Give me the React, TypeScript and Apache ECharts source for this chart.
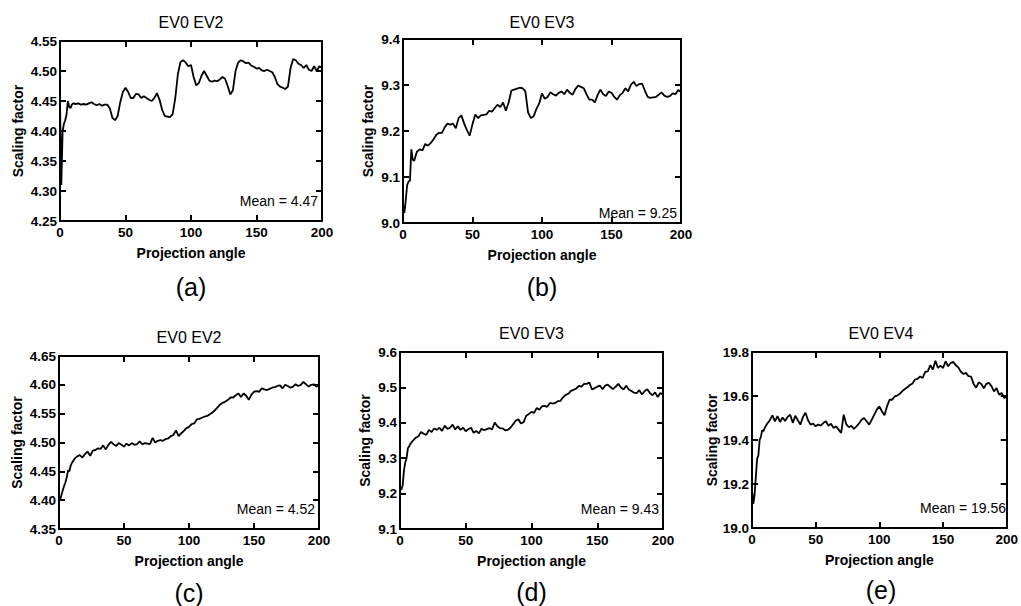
import React, { useEffect, useRef } from "react";
import * as echarts from "echarts";

// Projection angles (dense at the start, then every 2 degrees)
const ANGLES: number[] = [0, 1, 2, 3, 4, 5, 6, 7, 8, 9, 10].concat(
  Array.from({ length: 95 }, (_, i) => 12 + 2 * i)
);

const X_TICK_STEP = 50;

const TITLES = ["EV0 EV2", "EV0 EV3", "EV0 EV2", "EV0 EV3", "EV0 EV4"];
const SUB_LABELS = ["(a)", "(b)", "(c)", "(d)", "(e)"];
const MEANS = ["Mean = 4.47", "Mean = 9.25", "Mean = 4.52", "Mean = 9.43", "Mean = 19.56"];

const Y_MIN = [4.25, 9.0, 4.35, 9.1, 19.0];
const Y_MAX = [4.55, 9.4, 4.65, 9.6, 19.8];
const Y_STEP = [0.05, 0.1, 0.05, 0.1, 0.2];
const Y_DECIMALS = [2, 1, 2, 1, 1];

const VALUES_A = [
  4.45, 4.31, 4.4, 4.412, 4.418, 4.428, 4.45, 4.44, 4.438, 4.444, 4.446,
  4.445, 4.446, 4.444, 4.445, 4.444, 4.446, 4.448, 4.445, 4.443, 4.445, 4.442, 4.444, 4.444, 4.438, 4.422,
  4.418, 4.425, 4.448, 4.465, 4.472, 4.465, 4.455, 4.455, 4.462, 4.461, 4.455, 4.458, 4.455, 4.452, 4.45,
  4.455, 4.463, 4.452, 4.435, 4.425, 4.424, 4.423, 4.428, 4.455, 4.495, 4.515, 4.518, 4.514, 4.508, 4.51,
  4.49, 4.476, 4.48, 4.492, 4.5, 4.492, 4.484, 4.482, 4.484, 4.483, 4.486, 4.49, 4.487, 4.475, 4.461,
  4.468, 4.5, 4.514, 4.518, 4.516, 4.513, 4.514, 4.509, 4.507, 4.504, 4.505, 4.501, 4.5, 4.502, 4.5,
  4.498, 4.49, 4.478, 4.474, 4.472, 4.47, 4.474, 4.505, 4.52, 4.518, 4.512, 4.51, 4.505, 4.51, 4.502,
  4.5, 4.508, 4.5, 4.508, 4.505,
];

const VALUES_B = [
  9.04, 9.022, 9.05, 9.083, 9.09, 9.092, 9.16, 9.138, 9.135, 9.145, 9.155,
  9.16, 9.158, 9.172, 9.168, 9.174, 9.182, 9.192, 9.196, 9.196, 9.208, 9.216, 9.214, 9.216, 9.206, 9.228,
  9.234, 9.216, 9.202, 9.19, 9.215, 9.236, 9.228, 9.234, 9.235, 9.236, 9.244, 9.242, 9.25, 9.257, 9.252,
  9.262, 9.244, 9.262, 9.288, 9.29, 9.292, 9.294, 9.293, 9.286, 9.24, 9.228, 9.232, 9.248, 9.26, 9.282,
  9.27, 9.274, 9.284, 9.28, 9.277, 9.283, 9.286, 9.28, 9.29, 9.283, 9.279, 9.291, 9.299, 9.296, 9.293,
  9.28, 9.268, 9.268, 9.262, 9.278, 9.29, 9.28, 9.276, 9.286, 9.283, 9.274, 9.268, 9.278, 9.283, 9.293,
  9.286, 9.301, 9.307, 9.298, 9.302, 9.303, 9.288, 9.274, 9.272, 9.273, 9.274, 9.279, 9.284, 9.277, 9.274,
  9.276, 9.282, 9.28, 9.289, 9.285,
];

const VALUES_C = [
  4.398, 4.402, 4.41, 4.418, 4.425, 4.431, 4.44, 4.452, 4.45, 4.46, 4.465,
  4.472, 4.476, 4.478, 4.474, 4.48, 4.484, 4.477, 4.486, 4.487, 4.49, 4.489, 4.495, 4.488, 4.496, 4.501,
  4.497, 4.494, 4.499, 4.496, 4.493, 4.498, 4.495, 4.499, 4.496, 4.497, 4.502, 4.497, 4.499, 4.498, 4.497,
  4.508, 4.5, 4.503, 4.504, 4.503, 4.506, 4.507, 4.511, 4.513, 4.521, 4.511, 4.516, 4.52, 4.525, 4.527,
  4.532, 4.533, 4.54, 4.541, 4.543, 4.545, 4.546, 4.549, 4.552, 4.556, 4.561, 4.566, 4.569, 4.571, 4.574,
  4.578, 4.578, 4.582, 4.585, 4.579, 4.585, 4.581, 4.574, 4.583, 4.588, 4.589, 4.588, 4.594, 4.592, 4.591,
  4.593, 4.595, 4.596, 4.598, 4.599, 4.594, 4.6, 4.598, 4.595, 4.597, 4.601, 4.598, 4.6, 4.605, 4.601,
  4.597, 4.6, 4.601, 4.597, 4.599,
];

const VALUES_D = [
  9.215, 9.211, 9.222, 9.265, 9.288, 9.3, 9.328, 9.334, 9.341, 9.346, 9.35,
  9.358, 9.362, 9.374, 9.369, 9.366, 9.38, 9.374, 9.384, 9.38, 9.386, 9.377, 9.392, 9.383, 9.386, 9.395,
  9.381, 9.39, 9.38, 9.386, 9.376, 9.382, 9.386, 9.372, 9.377, 9.37, 9.383, 9.379, 9.382, 9.385, 9.381,
  9.401, 9.39, 9.385, 9.384, 9.379, 9.38, 9.386, 9.396, 9.406, 9.41, 9.398, 9.402, 9.42, 9.425, 9.431,
  9.428, 9.442, 9.437, 9.447, 9.448, 9.445, 9.456, 9.454, 9.456, 9.461, 9.462, 9.472, 9.479, 9.482, 9.49,
  9.493, 9.497, 9.504, 9.502, 9.51, 9.51, 9.514, 9.494, 9.498, 9.502, 9.505, 9.495, 9.505, 9.508, 9.501,
  9.495, 9.502, 9.51, 9.5, 9.494, 9.505, 9.494, 9.49, 9.485, 9.484, 9.492, 9.48, 9.489, 9.495, 9.484,
  9.478, 9.486, 9.473, 9.484, 9.479,
];

const VALUES_E = [
  19.17, 19.11, 19.15, 19.23, 19.315, 19.33, 19.4, 19.415, 19.445, 19.44, 19.455,
  19.475, 19.49, 19.512, 19.485, 19.508, 19.482, 19.502, 19.486, 19.505, 19.515, 19.478, 19.51, 19.49, 19.47, 19.505,
  19.524, 19.49, 19.47, 19.474, 19.462, 19.47, 19.465, 19.477, 19.485, 19.465, 19.474, 19.455, 19.462, 19.447, 19.432,
  19.515, 19.472, 19.458, 19.465, 19.45, 19.462, 19.475, 19.492, 19.5, 19.485, 19.47, 19.492, 19.515, 19.538, 19.553,
  19.53, 19.512, 19.553, 19.583, 19.583, 19.598, 19.602, 19.61, 19.622, 19.632, 19.64, 19.65, 19.657, 19.675, 19.678,
  19.689, 19.682, 19.71, 19.712, 19.74, 19.72, 19.76, 19.728, 19.738, 19.727, 19.758, 19.735, 19.75, 19.755, 19.74,
  19.73, 19.71, 19.7, 19.705, 19.69, 19.688, 19.655, 19.638, 19.662, 19.655, 19.635, 19.655, 19.66, 19.645, 19.621,
  19.636, 19.606, 19.614, 19.591, 19.598,
];

const SERIES_VALUES = [VALUES_A, VALUES_B, VALUES_C, VALUES_D, VALUES_E];

// Layout (pixels)
const BOXES = [
  { left: 60, top: 41, width: 262, height: 180, yNameGap: 35, titleY: 22, subY: 287, meanY: 201 },
  { left: 403, top: 39, width: 278, height: 184, yNameGap: 28, titleY: 22, subY: 287, meanY: 213 },
  { left: 59, top: 356, width: 260, height: 173, yNameGap: 35, titleY: 337, subY: 593, meanY: 509 },
  { left: 400, top: 352, width: 263, height: 177, yNameGap: 28, titleY: 333, subY: 592, meanY: 509 },
  { left: 752, top: 352, width: 258, height: 176, yNameGap: 33, titleY: 333, subY: 590, meanY: 508 },
];

const FONT = "'Liberation Sans', Arial, Helvetica, sans-serif";
const BLACK = "#000";

function buildOption() {
  const axisLine = { show: true, onZero: false, lineStyle: { color: BLACK, width: 2 } };
  const axisTick = { show: true, inside: true, length: 6, lineStyle: { color: BLACK, width: 2 } };
  const tickLabel = { color: BLACK, fontWeight: "bold", fontSize: 13.5, fontFamily: FONT };
  const nameStyle = { color: BLACK, fontWeight: "bold", fontSize: 14, fontFamily: FONT };

  const grid = BOXES.map((b) => ({ left: b.left, top: b.top, width: b.width, height: b.height }));
  const xAxis: any[] = [];
  const yAxis: any[] = [];
  const series: any[] = [];
  const graphic: any[] = [];

  BOXES.forEach((b, i) => {
    xAxis.push({
      gridIndex: i, type: "value", min: 0, max: 200, interval: X_TICK_STEP, position: "bottom",
      axisLine, axisTick, splitLine: { show: false },
      axisLabel: { ...tickLabel, margin: 4 },
      name: "Projection angle", nameLocation: "middle", nameGap: 25, nameTextStyle: nameStyle,
    });
    xAxis.push({
      gridIndex: i, type: "value", min: 0, max: 200, interval: X_TICK_STEP, position: "top",
      axisLine, axisTick, splitLine: { show: false }, axisLabel: { show: false },
    });
    const dec = Y_DECIMALS[i];
    yAxis.push({
      gridIndex: i, type: "value", min: Y_MIN[i], max: Y_MAX[i], interval: Y_STEP[i], position: "left",
      axisLine, axisTick, splitLine: { show: false },
      axisLabel: { ...tickLabel, margin: 3, formatter: (v: number) => v.toFixed(dec) },
      name: "Scaling factor", nameLocation: "middle", nameGap: b.yNameGap, nameRotate: 90,
      nameTextStyle: nameStyle,
    });
    yAxis.push({
      gridIndex: i, type: "value", min: Y_MIN[i], max: Y_MAX[i], interval: Y_STEP[i], position: "right",
      axisLine, axisTick, splitLine: { show: false }, axisLabel: { show: false },
    });
    series.push({
      type: "line", xAxisIndex: 2 * i, yAxisIndex: 2 * i,
      data: ANGLES.map((a, k) => [a, SERIES_VALUES[i][k]]),
      showSymbol: false, symbol: "none", silent: true,
      lineStyle: { color: BLACK, width: 1.8 },
    });
    const cx = b.left + b.width / 2;
    graphic.push({
      type: "text", x: cx, y: b.titleY,
      style: { text: TITLES[i], fill: BLACK, font: `16px ${FONT}`, align: "center", verticalAlign: "middle" },
    });
    graphic.push({
      type: "text", x: cx, y: b.subY,
      style: { text: SUB_LABELS[i], fill: BLACK, font: `25px ${FONT}`, align: "center", verticalAlign: "middle" },
    });
    graphic.push({
      type: "text", x: b.left + b.width - 4, y: b.meanY,
      style: { text: MEANS[i], fill: BLACK, font: `14px ${FONT}`, align: "right", verticalAlign: "middle" },
    });
  });

  return { animation: false, backgroundColor: "#fff", grid, xAxis, yAxis, series, graphic };
}

export default function App() {
  const ref = useRef<HTMLDivElement>(null);
  useEffect(() => {
    if (!ref.current) return;
    const chart = echarts.init(ref.current, undefined, { renderer: "svg" });
    chart.setOption(buildOption() as any);
    return () => chart.dispose();
  }, []);
  return (
    <div
      ref={ref}
      style={{ position: "absolute", left: 0, top: 0, width: 1021, height: 606, background: "#fff" }}
    />
  );
}
